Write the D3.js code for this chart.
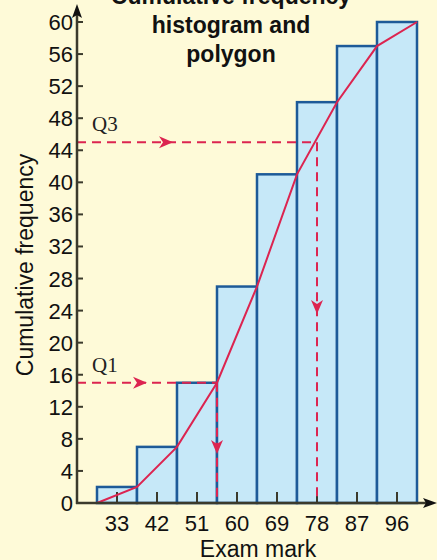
<!DOCTYPE html>
<html><head><meta charset="utf-8">
<script src="https://cdn.jsdelivr.net/npm/d3@7"></script>
<style>html,body{margin:0;padding:0;background:#fefad8;}svg{display:block;}</style>
</head><body>
<svg id="c" width="437" height="560"></svg>
<script>
const midpoints = [33, 42, 51, 60, 69, 78, 87, 96];
const boundaries = [28.5, 37.5, 46.5, 55.5, 64.5, 73.5, 82.5, 91.5, 100.5];
const cumFreq = [2, 7, 15, 27, 41, 50, 57, 60];
const polyX = [28.5, 37.5, 46.5, 55.5, 64.5, 73.5, 82.5, 91.5, 100.5];
const polyY = [0, 2, 7, 15, 27, 41, 50, 57, 60];
const yTicks = [0, 4, 8, 12, 16, 20, 24, 28, 32, 36, 40, 44, 48, 52, 56, 60];
const quartiles = [{label: "Q1", freq: 15, mark: 55.5}, {label: "Q3", freq: 45, mark: 78}];
const titleLines = ["Cumulative frequency", "histogram and", "polygon"];

const svg = d3.select("#c");
const red = "#dc2450", blue = "#1d5a98", fill = "#c6e8f8", axisC = "#3b3a2c";
const x = d3.scaleLinear().domain([28.5, 100.5]).range([97, 417]);
const y = d3.scaleLinear().domain([0, 60]).range([503, 22]);
const font = "'Liberation Sans', Arial, Helvetica, sans-serif";

// bars
svg.append("g").selectAll("rect").data(cumFreq).join("rect")
  .attr("x", (d,i) => x(boundaries[i]))
  .attr("y", d => y(d))
  .attr("width", (d,i) => x(boundaries[i+1]) - x(boundaries[i]))
  .attr("height", d => y(0) - y(d))
  .attr("fill", fill).attr("stroke", blue).attr("stroke-width", 2.5);

// x ticks (inside, upward)
svg.append("g").selectAll("line").data(midpoints).join("line")
  .attr("x1", d => x(d)).attr("x2", d => x(d))
  .attr("y1", y(0)).attr("y2", y(0) - 11)
  .attr("stroke", axisC).attr("stroke-width", 2);

// dashed quartile lines
const arrowPos = {Q1: {rx: 147, dy: 454}, Q3: {rx: 173, dy: 314}};
quartiles.forEach(q => {
  const g = svg.append("g");
  g.append("line").attr("x1", 77).attr("x2", x(q.mark)).attr("y1", y(q.freq)).attr("y2", y(q.freq))
    .attr("stroke", red).attr("stroke-width", 2).attr("stroke-dasharray", "9,6");
  g.append("line").attr("x1", x(q.mark)).attr("x2", x(q.mark)).attr("y1", y(q.freq)).attr("y2", y(0))
    .attr("stroke", red).attr("stroke-width", 2).attr("stroke-dasharray", "9,6");
  const ax = arrowPos[q.label].rx, ay = y(q.freq);
  g.append("path").attr("d", `M${ax},${ay} L${ax-14},${ay-6} L${ax-10},${ay} L${ax-14},${ay+6} Z`).attr("fill", red);
  const dx = x(q.mark), dy = arrowPos[q.label].dy;
  g.append("path").attr("d", `M${dx},${dy} L${dx-6},${dy-14} L${dx},${dy-10} L${dx+6},${dy-14} Z`).attr("fill", red);
  g.append("text").attr("x", 92).attr("y", y(q.freq) - 11).text(q.label)
    .attr("font-family", "'Liberation Serif', 'Times New Roman', serif").attr("font-size", 21).attr("fill", "#222");
});

// polygon
svg.append("path").datum(polyX.map((d,i) => [d, polyY[i]]))
  .attr("d", d3.line().x(d => x(d[0])).y(d => y(d[1])))
  .attr("fill", "none").attr("stroke", red).attr("stroke-width", 2);

// axes
svg.append("line").attr("x1", 77).attr("x2", 77).attr("y1", y(0)+1).attr("y2", 12).attr("stroke", axisC).attr("stroke-width", 2.5);
svg.append("path").attr("d", "M77,4 L82,18 L77,15 L72,18 Z").attr("fill", "#111");
svg.append("line").attr("x1", 76).attr("x2", 428).attr("y1", y(0)).attr("y2", y(0)).attr("stroke", axisC).attr("stroke-width", 2.5);
svg.append("path").attr("d", `M437,${y(0)} L423,${y(0)-5} L426,${y(0)} L423,${y(0)+5} Z`).attr("fill", "#111");

// y ticks
const yg = svg.append("g");
yg.selectAll("line").data(yTicks).join("line")
  .attr("x1", 77).attr("x2", 83).attr("y1", d => y(d)).attr("y2", d => y(d))
  .attr("stroke", axisC).attr("stroke-width", 2);
yg.selectAll("text").data(yTicks).join("text")
  .attr("x", 73).attr("y", d => y(d) + 8).attr("text-anchor", "end")
  .attr("font-family", font).attr("font-size", 22).attr("fill", "#111").text(d => d);

// x labels
svg.append("g").selectAll("text").data(midpoints).join("text")
  .attr("x", d => x(d)).attr("y", 531).attr("text-anchor", "middle")
  .attr("font-family", font).attr("font-size", 22).attr("fill", "#111").text(d => d);

svg.append("text").attr("x", 258).attr("y", 557).attr("text-anchor", "middle")
  .attr("font-family", font).attr("font-size", 23).attr("fill", "#111").text("Exam mark");
svg.append("text").attr("transform", "translate(33,265) rotate(-90)").attr("text-anchor", "middle")
  .attr("font-family", font).attr("font-size", 23).attr("fill", "#111").text("Cumulative frequency");

// title
svg.append("g").selectAll("text").data(titleLines).join("text")
  .attr("x", 231).attr("y", (d,i) => 4 + i * 29).attr("text-anchor", "middle")
  .attr("font-family", font).attr("font-weight", "bold").attr("font-size", 23).attr("fill", "#111").text(d => d);
</script>
</body></html>
